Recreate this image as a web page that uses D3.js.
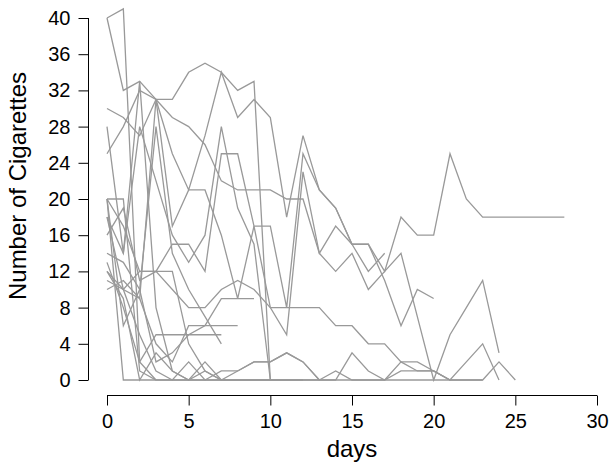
<!DOCTYPE html>
<html lang="en">
  <head>
    <meta charset="UTF-8" />
    <title>Number of Cigarettes by days</title>
    <script src="https://d3js.org/d3.v7.min.js"></script>
    <style>
      body {
        margin: 0;
        background: #fff;
        font-family: 'Liberation Sans', Arial, sans-serif;
      }
      .axis path,
      .axis line {
        stroke: #000;
        stroke-width: 1px;
      }
      .axis text {
        font-size: 20px;
        fill: #000;
      }
      .subject {
        fill: none;
        stroke: #999;
        stroke-width: 1.3px;
      }
      .label {
        font-size: 24px;
        fill: #000;
      }
    </style>
  </head>
  <body>
    <div id="chart"></div>
    <script>
      // cigarettes per day for each subject, index = day
      const s01 = [40, 41, 2, 0];
      const s02 = [40, 32, 33, 31, 31, 34, 35, 34, 32, 33, 0];
      const s03 = [30, 29, 27, 31, 29, 28, 26, 22, 21, 21, 21, 20, 20, 14, 17, 15, 15, 12, 18, 16, 16, 25, 20, 18, 18, 18, 18, 18, 18];
      const s04 = [25, 28, 32, 31, 25, 21, 27, 34, 29, 31, 29, 18, 27, 21, 19, 15, 15, 11, 6, 10, 9];
      const s05 = [20, 0, 0, 0, 0, 0, 0, 0, 0, 0, 0, 0, 0, 0, 0, 0, 0, 0, 0, 0, 0, 0, 0, 0];
      const s06 = [28, 14, 33, 8, 1, 0, 2, 0];
      const s07 = [20, 17, 12, 12, 12, 4, 1, 0, 0, 0, 0, 0, 0];
      const s08 = [18, 14, 28, 22, 16, 13, 16, 28, 19, 15, 0];
      const s09 = [14, 13, 10, 2, 3, 5, 6, 6, 6];
      const s10 = [12, 10, 9, 4, 2, 6, 6, 9, 9, 9];
      const s11 = [11, 10, 12, 12, 10, 8, 8, 10, 11, 10, 8, 8, 8, 8, 6, 6, 4, 4, 2, 1, 1, 0];
      const s12 = [13, 8, 2, 5, 5, 5, 5, 5];
      const s13 = [18, 10, 5, 1, 0, 2, 0, 1, 1, 2, 2, 3, 2, 0, 1, 0, 0, 0, 2, 2, 1, 0, 0, 0, 2, 0];
      const s14 = [20, 6, 10, 28, 14, 10, 7, 4];
      const s15 = [16, 19, 11, 12, 15, 15, 12, 25, 25, 17, 17, 8, 25, 21, 19, 15, 12, 14];
      const s16 = [10, 11, 9, 31, 17, 21, 21, 16, 9, 17, 8, 5, 23, 14, 12, 14, 10, 12, 14, 7, 0, 5, 8, 11, 3];
      const s17 = [20, 20, 1, 0, 0, 0, 0, 0, 0, 0, 0, 0, 0, 0, 0, 3, 1, 0, 1, 1, 1, 0, 2, 4, 0];
      const s18 = [12, 9, 0, 3, 1, 0, 1, 0, 1, 2, 2, 3, 2, 0];
      const subjects = [s01, s02, s03, s04, s05, s06, s07, s08, s09, s10, s11, s12, s13, s14, s15, s16, s17, s18];

      const xTicks = [0, 5, 10, 15, 20, 25, 30];
      const yTicks = [0, 4, 8, 12, 16, 20, 24, 28, 32, 36, 40];

      const width = 616,
        height = 471;

      const svg = d3
        .select('#chart')
        .append('svg')
        .attr('width', width)
        .attr('height', height);

      const x = d3.scaleLinear().domain([0, 30]).range([107, 597]);
      const y = d3.scaleLinear().domain([0, 40]).range([380, 18]);

      const line = d3
        .line()
        .x((d, i) => x(i))
        .y((d) => y(d));

      svg
        .selectAll('.subject')
        .data(subjects)
        .enter()
        .append('path')
        .attr('class', 'subject')
        .attr('d', line);

      // axes sit off the data like base R (4% padding)
      const xAxis = svg
        .append('g')
        .attr('class', 'axis')
        .attr('transform', 'translate(0,395.5)')
        .call(
          d3.axisBottom(x).tickValues(xTicks).tickSize(10).tickSizeOuter(0).tickPadding(8),
        );
      xAxis.select('.domain').attr('d', `M${x(0)},0H${x(30)}`);

      const yAxis = svg
        .append('g')
        .attr('class', 'axis')
        .attr('transform', 'translate(88.5,0)')
        .call(
          d3.axisLeft(y).tickValues(yTicks).tickSize(10).tickSizeOuter(0).tickPadding(8),
        );
      yAxis.select('.domain').attr('d', `M0,${y(0)}V${y(40)}`);
      svg.selectAll('.axis text').attr('font-family', null);

      svg
        .append('text')
        .attr('class', 'label')
        .attr('x', 352)
        .attr('y', 457)
        .attr('text-anchor', 'middle')
        .text('days');

      svg
        .append('text')
        .attr('class', 'label')
        .attr('transform', 'rotate(-90)')
        .attr('x', -186)
        .attr('y', 26)
        .attr('text-anchor', 'middle')
        .text('Number of Cigarettes');
    </script>
  </body>
</html>
